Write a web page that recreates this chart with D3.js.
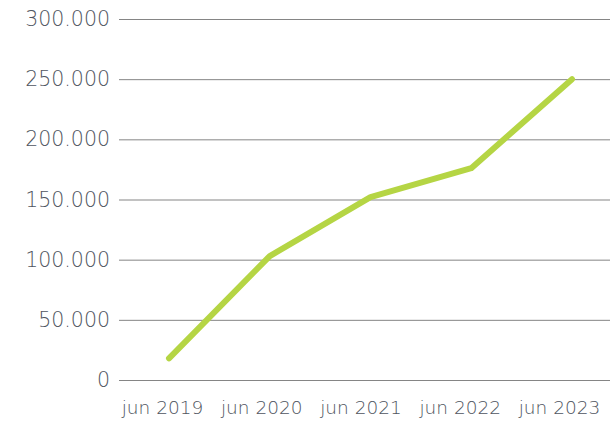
<!DOCTYPE html>
<html>
<head>
<meta charset="utf-8">
<script src="https://cdn.jsdelivr.net/npm/d3@7"></script>
<style>
  body { margin: 0; background: #fff; }
  text { font-family: "DejaVu Sans", sans-serif; font-weight: 200; }
</style>
</head>
<body>
<div id="chart"></div>
<script>
"use strict";

// data
var periods = ["jun 2019", "jun 2020", "jun 2021", "jun 2022", "jun 2023"];
var values = [18000, 103000, 152000, 176000, 250000];
var yTicks = [0, 50000, 100000, 150000, 200000, 250000, 300000];

var width = 610, height = 421;

var svg = d3.select("#chart")
  .append("svg")
  .attr("width", width)
  .attr("height", height);

var y = d3.scaleLinear()
  .domain([0, 300000])
  .range([380, 19]);

// line points and labels don't sit exactly on the same centres in the original
var xLine = d3.scalePoint().domain(periods).range([169, 572]);
var xLabel = d3.scalePoint().domain(periods).range([162, 559]);

var fmt = function(d) {
  return d3.format(",")(d).replace(/,/g, ".");
};

// gridlines + y labels
var yAxis = svg.append("g")
  .attr("transform", "translate(119,0)")
  .call(d3.axisLeft(y).tickValues(yTicks).tickSize(-(width - 119)).tickPadding(9).tickFormat(fmt));
yAxis.select(".domain").remove();
yAxis.selectAll(".tick line").attr("stroke", "#858585").attr("stroke-width", 1);
yAxis.selectAll(".tick text").attr("font-size", "20.5px").attr("fill", "#4f5560");

// x labels
var xAxis = svg.append("g")
  .attr("transform", "translate(0,401)")
  .call(d3.axisBottom(xLabel).tickSize(0).tickPadding(0));
xAxis.select(".domain").remove();
xAxis.selectAll(".tick text").attr("font-size", "18.5px").attr("dy", "0.71em").attr("fill", "#4f5560");

var line = d3.line()
  .x(function(d, i) { return xLine(periods[i]); })
  .y(function(d) { return y(d); });

svg.append("path")
  .datum(values)
  .attr("d", line)
  .attr("fill", "none")
  .attr("stroke", "#b5d544")
  .attr("stroke-width", 6)
  .attr("stroke-linecap", "round")
  .attr("stroke-linejoin", "round");
</script>
</body>
</html>
